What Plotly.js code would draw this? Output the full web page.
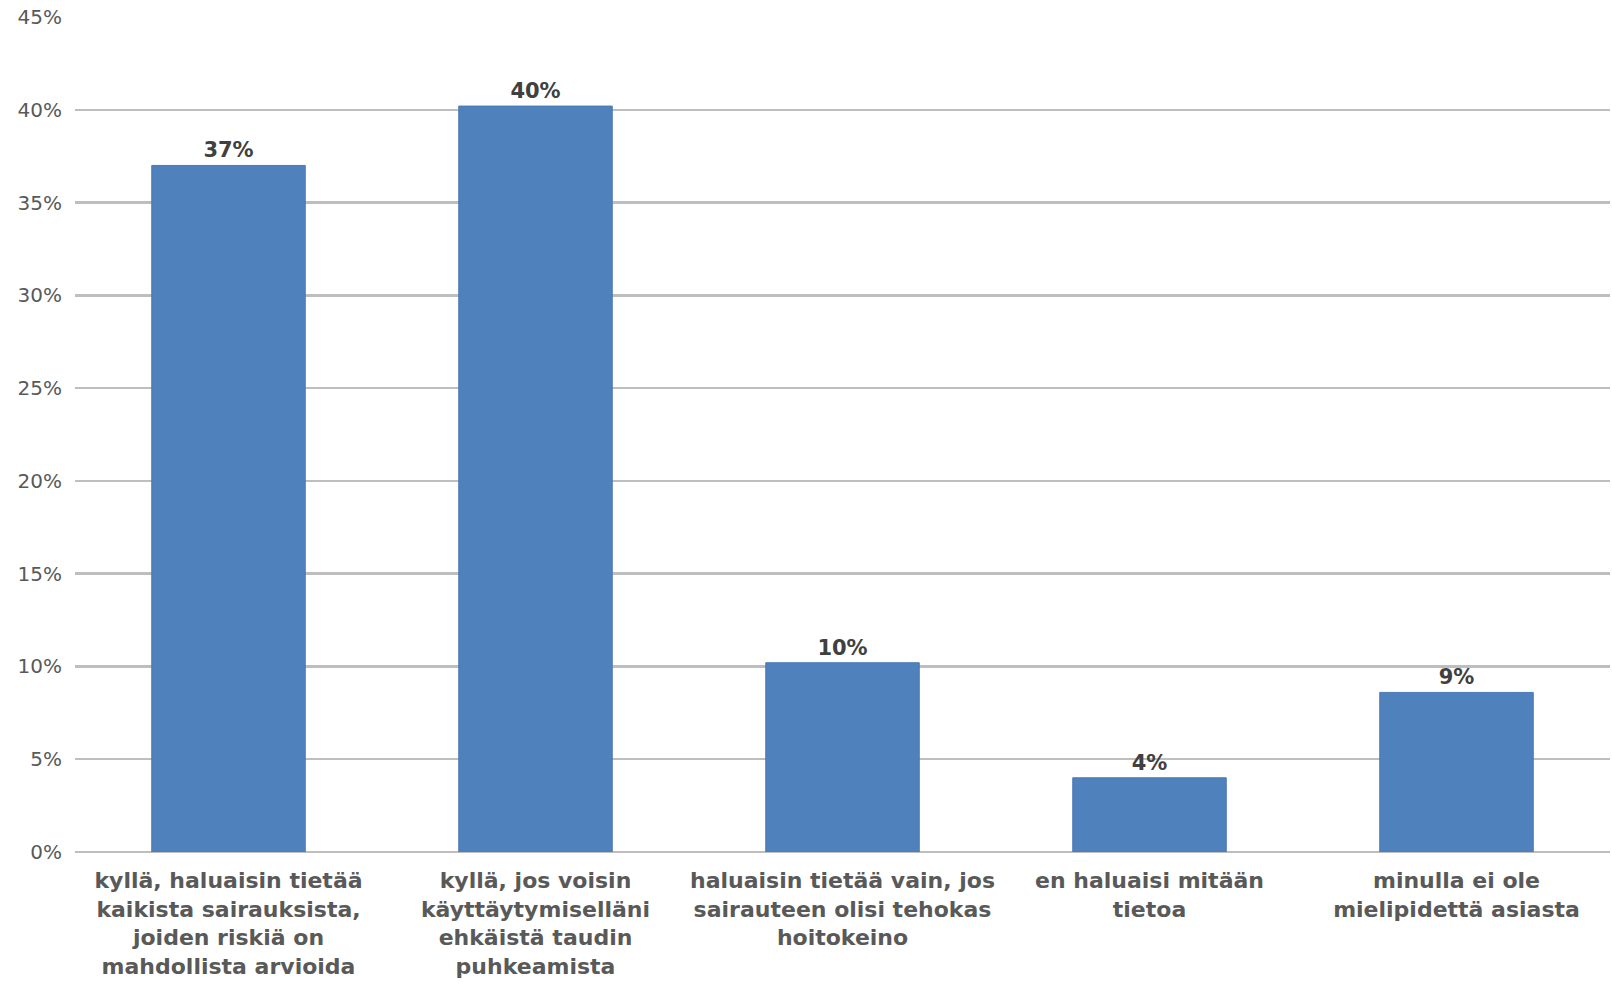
<!DOCTYPE html>
<html>
<head>
<meta charset="utf-8">
<script src="https://cdn.plot.ly/plotly-3.0.1.min.js"></script>
<style>html,body{margin:0;padding:0;background:#fff;}#chart{width:1612px;height:987px;}</style>
</head>
<body>
<div id="chart"></div>
<script>
const categories = [
  "kyllä, haluaisin tietää<br>kaikista sairauksista,<br>joiden riskiä on<br>mahdollista arvioida",
  "kyllä, jos voisin<br>käyttäytymiselläni<br>ehkäistä taudin<br>puhkeamista",
  "haluaisin tietää vain, jos<br>sairauteen olisi tehokas<br>hoitokeino",
  "en haluaisi mitään<br>tietoa",
  "minulla ei ole<br>mielipidettä asiasta"
];
const values = [37.0, 40.2, 10.2, 4.0, 8.6];
const valueLabels = ["37%", "40%", "10%", "4%", "9%"];
const yTickVals = [0, 5, 10, 15, 20, 25, 30, 35, 40, 45];
const yTickText = ["0%", "5%", "10%", "15%", "20%", "25%", "30%", "35%", "40%", "45%"];

const FONT = "DejaVu Sans, Liberation Sans, Arial, sans-serif";

const trace = {
  type: "bar",
  x: categories,
  y: values,
  text: valueLabels,
  textposition: "outside",
  cliponaxis: false,
  textfont: {family: FONT, size: 21, color: "#404040", weight: "bold"},
  marker: {color: "#4F81BD", line: {color: "#4A7AB5", width: 1}},
  hoverinfo: "none"
};

const layout = {
  width: 1612, height: 987,
  margin: {l: 75, r: 2, t: 17, b: 135},
  paper_bgcolor: "#ffffff",
  plot_bgcolor: "#ffffff",
  bargap: 0.5,
  showlegend: false,
  font: {family: FONT, color: "#595959"},
  xaxis: {
    type: "category",
    showgrid: false,
    showline: false,
    ticks: "",
    tickfont: {family: FONT, size: 22, color: "#595959", weight: "bold"},
    ticklabelstandoff: 13,
    automargin: false
  },
  yaxis: {
    range: [0, 45],
    tickvals: yTickVals,
    ticktext: yTickText,
    showgrid: true,
    gridcolor: "#BEBEBE",
    gridwidth: 2.5,
    zeroline: true,
    zerolinecolor: "#BEBEBE",
    zerolinewidth: 2.5,
    showline: false,
    ticks: "",
    tickfont: {family: FONT, size: 20, color: "#595959"},
    ticklabelstandoff: 12,
    automargin: false
  }
};

Plotly.newPlot("chart", [trace], layout, {displayModeBar: false, staticPlot: true});
</script>
</body>
</html>
